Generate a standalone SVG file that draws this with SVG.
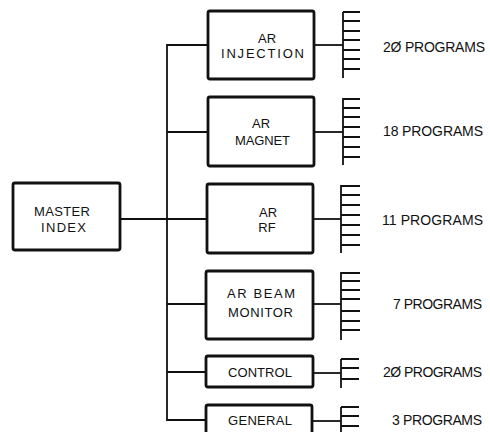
<svg xmlns="http://www.w3.org/2000/svg" width="490" height="432" viewBox="0 0 490 432">
<style>
.box{fill:#fff;stroke:#111;stroke-width:2.8}
.ln{fill:none;stroke:#111;stroke-width:1.8}
.t{font-family:"Liberation Sans",Arial,sans-serif;font-size:13px;fill:#111}
.c{text-anchor:middle}
.p{font-family:"Liberation Sans",Arial,sans-serif;font-size:14px;fill:#111}
</style>
<rect width="490" height="432" fill="#fff"/>
<g id="connectors" class="ln">
<path d="M208 45 H167 V420 H206"/>
<path d="M167 132 H208"/>
<path d="M120 219 H207"/>
<path d="M167 304 H206"/>
<path d="M167 372 H206"/>
<path d="M314 45 H343"/>
<path d="M314 132 H343"/>
<path d="M313 219 H341"/>
<path d="M313 304 H341"/>
<path d="M313 373 H341"/>
<path d="M312 421 H341"/>
</g>
<g id="combs" class="ln">
<path d="M343 12 V78 M343 12 H360 M343 21 H360 M343 31 H360 M343 40 H360 M343 50 H360 M343 59 H360 M343 69 H360"/>
<path d="M343 98 V165 M343 99 H360 M343 108 H360 M343 117 H360 M343 127 H360 M343 137 H360 M343 147 H360 M343 157 H360"/>
<path d="M341 185 V253 M341 186 H360 M341 195 H360 M341 205 H360 M341 215 H360 M341 225 H360 M341 235 H360 M341 245 H360"/>
<path d="M341 272 V340 M341 273 H360 M341 281 H360 M341 290 H360 M341 299 H360 M341 311 H360 M341 321 H360 M341 330 H360"/>
<path d="M341 359 V388 M341 359 H359 M341 368 H359 M341 379 H359"/>
<path d="M341 407 V440 M341 407 H359 M341 416 H359 M341 426 H359"/>
</g>
<g id="master-index">
<rect class="box" x="13" y="183" width="107" height="67" rx="2"/>
<text class="t" x="34" y="216" textLength="56" lengthAdjust="spacing">MASTER</text>
<text class="t" x="41" y="232" textLength="45" lengthAdjust="spacing">INDEX</text>
</g>
<g id="ar-injection">
<rect class="box" x="208" y="11" width="106" height="68" rx="2"/>
<text class="t c" x="267" y="43">AR</text>
<text class="t" x="221" y="58" textLength="83" lengthAdjust="spacing">INJECTION</text>
</g>
<g id="ar-magnet">
<rect class="box" x="208" y="97" width="106" height="69" rx="2"/>
<text class="t c" x="261" y="128">AR</text>
<text class="t" x="235" y="145" textLength="55" lengthAdjust="spacing">MAGNET</text>
</g>
<g id="ar-rf">
<rect class="box" x="207" y="184" width="106" height="69" rx="2"/>
<text class="t c" x="268" y="217">AR</text>
<text class="t c" x="267" y="232">RF</text>
</g>
<g id="ar-beam-monitor">
<rect class="box" x="206" y="271" width="107" height="68" rx="2"/>
<text class="t" x="227" y="298" textLength="68" lengthAdjust="spacing">AR BEAM</text>
<text class="t" x="228" y="317" textLength="65" lengthAdjust="spacing">MONITOR</text>
</g>
<g id="control">
<rect class="box" x="206" y="356" width="107" height="31" rx="2"/>
<text class="t" x="228" y="377" textLength="64" lengthAdjust="spacing">CONTROL</text>
</g>
<g id="general">
<rect class="box" x="206" y="405" width="106" height="40" rx="2"/>
<text class="t" x="228" y="425" textLength="64" lengthAdjust="spacing">GENERAL</text>
</g>
<g id="labels">
<text class="p" x="383" y="52" textLength="102" lengthAdjust="spacing">2Ø PROGRAMS</text>
<text class="p" x="383" y="136" textLength="100" lengthAdjust="spacing">18 PROGRAMS</text>
<text class="p" x="382" y="225" textLength="101" lengthAdjust="spacing">11 PROGRAMS</text>
<text class="p" x="393" y="309" textLength="89" lengthAdjust="spacing">7 PROGRAMS</text>
<text class="p" x="383" y="377" textLength="99" lengthAdjust="spacing">2Ø PROGRAMS</text>
<text class="p" x="392" y="425" textLength="90" lengthAdjust="spacing">3 PROGRAMS</text>
</g>
</svg>
